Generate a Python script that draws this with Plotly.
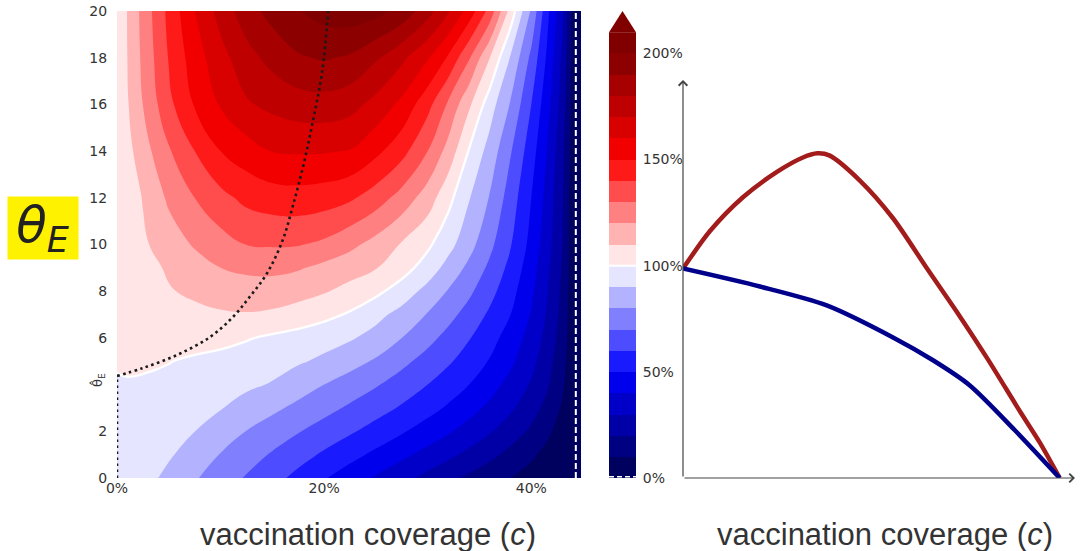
import plotly.graph_objects as go

W, H = 1080, 551

# ---------------- data ----------------
# contour grid: vaccination coverage c (columns) x theta_E (rows), relative value in %
c_cols = [0, .01, .025, .05, .075, .1, .125, .15, .175, .2, .225, .25, .275, .3,
          .32, .34, .36, .38, .4, .415, .43, .443, .448]
theta_rows = [0, 1, 2, 3, 4, 5, 6, 7, 8, 9, 10, 12, 14, 16, 18, 20]
rel_z = [
    [99.8, 97.5, 93.8, 87.4, 81.0, 75.0, 69.1, 63.3, 57.2, 50.8, 44.8, 38.8, 33.0, 27.1, 22.4, 18.0, 14.0, 10.0, 6.8, 4.4, 2.1, 0, -1],
    [99.8, 98.2, 95.6, 91.2, 85.6, 79.6, 74.3, 69.0, 63.8, 58.5, 53.2, 47.8, 42.2, 36.7, 32.2, 27.5, 22.5, 17.1, 11.4, 7.4, 3.4, 0, -1],
    [99.8, 98.7, 96.7, 93.4, 90.1, 85.0, 79.8, 75.2, 70.6, 65.9, 61.3, 56.3, 51.0, 45.6, 41.1, 36.1, 30.8, 24.8, 18.3, 12.1, 5.7, 0, -1],
    [99.8, 99.0, 97.6, 95.2, 92.9, 90.5, 86.5, 82.1, 77.6, 73.1, 68.5, 63.8, 58.9, 53.3, 48.7, 43.4, 37.8, 31.6, 24.0, 17.2, 8.7, 0, -1],
    [99.8, 99.6, 99.0, 97.8, 96.0, 93.8, 91.6, 89.4, 84.7, 80.0, 75.5, 70.9, 65.6, 60.0, 55.0, 50.0, 43.8, 36.9, 29.0, 21.5, 11.4, 0, -1],
    [100.2, 100.8, 101.2, 100.3, 98.5, 96.7, 94.8, 93.0, 91.1, 88.2, 83.6, 78.8, 72.5, 66.3, 61.3, 55.5, 49.3, 41.9, 32.9, 24.4, 13.3, 0, -1],
    [100.2, 101.2, 102.5, 103.7, 104.0, 103.2, 100.8, 98.3, 95.9, 93.5, 91.1, 86.4, 80.0, 72.9, 66.9, 60.6, 53.6, 45.7, 36.1, 27.1, 15.5, 0, -1],
    [100.2, 101.2, 102.8, 105.2, 107.3, 108.9, 109.4, 108.6, 106.5, 102.8, 98.8, 93.0, 86.6, 79.4, 73.1, 66.2, 58.3, 50.0, 39.3, 29.2, 17.0, 0, -1],
    [100.2, 102.2, 105.0, 109.2, 112.0, 114.0, 115.0, 114.6, 113.0, 110.8, 107.1, 102.3, 95.5, 86.7, 79.3, 71.9, 63.2, 53.5, 41.9, 30.8, 17.8, 0, -1],
    [100.2, 102.4, 106.0, 111.4, 115.7, 120.0, 122.2, 122.9, 121.0, 117.3, 113.8, 110.4, 104.1, 95.5, 86.5, 77.6, 67.9, 57.1, 44.3, 32.5, 18.9, 0, -1],
    [100.2, 103.5, 108.4, 115.0, 121.0, 126.0, 130.1, 130.9, 130.6, 127.9, 122.6, 116.3, 109.1, 101.8, 93.3, 83.5, 72.4, 60.6, 46.9, 34.5, 20.0, 0, -1],
    [100.2, 104.3, 110.5, 121.7, 130.0, 137.1, 142.6, 145.2, 146.0, 144.8, 141.6, 135.0, 126.0, 115.0, 102.9, 90.6, 79.3, 65.3, 50.0, 37.0, 21.1, 0, -1],
    [100.2, 106.7, 115.6, 128.9, 140.0, 150.0, 155.6, 160.3, 161.0, 160.8, 159.6, 152.5, 143.5, 130.0, 116.2, 99.3, 86.0, 70.8, 54.5, 40.0, 22.5, 0, -1],
    [100.2, 109.1, 120.0, 137.3, 150.8, 160.9, 168.8, 172.5, 175.3, 175.9, 173.5, 166.7, 157.5, 143.3, 128.3, 111.7, 94.6, 79.1, 60.0, 44.0, 25.7, 0, -1],
    [100.2, 110.0, 122.1, 140.6, 155.3, 166.5, 176.3, 183.3, 188.9, 191.0, 188.6, 181.4, 172.3, 161.0, 148.5, 131.0, 110.0, 89.1, 67.5, 48.8, 28.3, 0, -1],
    [100.2, 110.3, 123.1, 142.7, 160.0, 173.7, 185.7, 193.6, 199.5, 204.0, 205.8, 203.5, 196.8, 184.1, 171.3, 155.8, 136.3, 106.0, 78.6, 53.3, 31.7, 0, -1],
]
level_start, level_end, level_step = 0, 210, 10
cbar_extend_top = 220

# dotted curve (maximum over c for each theta_E)
c_argmax = [0, 0.025, 0.058, 0.090, 0.112, 0.128, 0.145, 0.160, 0.170, 0.180, 0.189, 0.198, 0.204]
theta_argmax = [4.37, 4.71, 5.27, 6.04, 6.90, 7.75, 8.78, 10.19, 11.69, 13.40, 15.25, 17.39, 20.0]
theta_hat = 4.37
c_star = 0.443

# right panel curves (%)
c_red = [0, 0.032, 0.0705, 0.110, 0.141, 0.158, 0.172, 0.208, 0.247, 0.287, 0.325, 0.358, 0.396, 0.4195, 0.443]
z_red = [100, 118, 134, 146, 153, 155, 154, 142, 124, 100, 77.5, 57, 32, 17, 0]
c_navy = [0, 0.0905, 0.169, 0.247, 0.294, 0.337, 0.390, 0.443]
z_navy = [100, 91.4, 82.4, 67.1, 56.2, 44.3, 22.9, 0]

x_tick_vals = [0, 0.2, 0.4]
x_tick_text = ["0%", "20%", "40%"]
y_tick_vals = [0, 2, 6, 8, 10, 12, 14, 16, 18, 20]
cbar_tick_vals = [0, 50, 100, 150, 200]
cbar_tick_text = ["0%", "50%", "100%", "150%", "200%"]

# ---------------- styling helpers ----------------
def seismic(x):
    pts = [(0.0, (0, 0, 0.3)), (0.25, (0, 0, 1)), (0.5, (1, 1, 1)),
           (0.75, (1, 0, 0)), (1.0, (0.5, 0, 0))]
    x = min(max(x, 0.0), 1.0)
    for (x0, c0), (x1, c1) in zip(pts[:-1], pts[1:]):
        if x <= x1:
            t = (x - x0) / (x1 - x0)
            return "rgb(%d,%d,%d)" % tuple(round(255 * (a + (b - a) * t)) for a, b in zip(c0, c1))
    return "rgb(128,0,0)"

vmin = level_start - level_step / 2
vmax = level_end + level_step / 2
stops = [level_start - level_step / 2 + i * level_step
         for i in range(int((level_end - level_start) / level_step) + 2)]
colorscale = [[(v - vmin) / (vmax - vmin), seismic(max(v, level_start + level_step / 2) / 200.0)]
              for v in stops]
band_mids = [level_start + level_step / 2 + i * level_step
             for i in range(int((level_end - level_start) / level_step))]

TICK_FONT = dict(family="DejaVu Sans", size=14, color="#333333")


def pxx(p):
    return p / W


def pyy(p):
    return 1 - p / H


fig = go.Figure()

# filled contour
fig.add_trace(go.Contour(
    x=c_cols, y=theta_rows, z=rel_z, autocontour=False,
    contours=dict(start=level_start, end=level_end, size=level_step,
                  coloring="fill", showlines=False),
    colorscale=colorscale, showscale=False, line=dict(width=0, smoothing=1.3),
    hoverinfo="skip", xaxis="x", yaxis="y"))
# 100 % contour line
fig.add_trace(go.Contour(
    x=c_cols, y=theta_rows, z=rel_z, autocontour=False,
    contours=dict(start=100, end=100, size=level_step, coloring="none"),
    line=dict(color="white", width=2.4, smoothing=1.3), showscale=False,
    hoverinfo="skip", xaxis="x", yaxis="y"))
# c* dashed line
fig.add_trace(go.Scatter(x=[c_star, c_star], y=[theta_rows[0], theta_rows[-1]], mode="lines",
                         line=dict(color="white", width=2, dash="6px,3px"),
                         hoverinfo="skip", showlegend=False, xaxis="x", yaxis="y"))
# dotted black lines
fig.add_trace(go.Scatter(x=c_argmax, y=theta_argmax, mode="lines",
                         line=dict(color="#1a1a1a", width=2.6, dash="2.6px,3.4px", shape="spline"),
                         hoverinfo="skip", showlegend=False, xaxis="x", yaxis="y"))
fig.add_trace(go.Scatter(x=[0, 0], y=[0, theta_hat], mode="lines",
                         line=dict(color="#1a1a1a", width=2.6, dash="2.6px,3.4px"),
                         cliponaxis=False, hoverinfo="skip", showlegend=False,
                         xaxis="x", yaxis="y"))

# colour bar (drawn as heatmap column)
fig.add_trace(go.Heatmap(x=[0, 1], y=band_mids, z=[[m, m] for m in band_mids],
                         colorscale=colorscale, zmin=vmin, zmax=vmax, showscale=False,
                         hoverinfo="skip", xaxis="x2", yaxis="y2"))
fig.add_trace(go.Scatter(x=[-0.5, 1.5, 0.5, -0.5],
                         y=[level_end, level_end, cbar_extend_top, level_end],
                         mode="lines", fill="toself", fillcolor=seismic(1.0),
                         line=dict(width=0, color=seismic(1.0)), hoverinfo="skip",
                         showlegend=False, xaxis="x2", yaxis="y2"))
fig.add_trace(go.Scatter(x=[-0.5, 1.5], y=[100, 100], mode="lines",
                         line=dict(color="white", width=2), hoverinfo="skip",
                         showlegend=False, xaxis="x2", yaxis="y2"))
fig.add_trace(go.Scatter(x=[-0.5, 1.5], y=[0.6, 0.6], mode="lines",
                         line=dict(color="white", width=1.5, dash="5px,3px"), hoverinfo="skip",
                         showlegend=False, xaxis="x2", yaxis="y2"))

# right panel lines
fig.add_trace(go.Scatter(x=c_red, y=z_red, mode="lines",
                         line=dict(color="#a31c1c", width=4.5, shape="spline", smoothing=0.8),
                         hoverinfo="skip", showlegend=False, xaxis="x3", yaxis="y3"))
fig.add_trace(go.Scatter(x=c_navy, y=z_navy, mode="lines",
                         line=dict(color="#00008b", width=4.5, shape="spline", smoothing=0.8),
                         hoverinfo="skip", showlegend=False, xaxis="x3", yaxis="y3"))

fig.update_layout(
    width=W, height=H, margin=dict(l=0, r=0, t=0, b=0, autoexpand=False),
    paper_bgcolor="white", plot_bgcolor="white", showlegend=False,
    xaxis=dict(domain=[pxx(117), pxx(581)], range=[0, 0.448], tickvals=x_tick_vals,
               ticktext=x_tick_text, ticks="", showgrid=False, zeroline=False,
               showline=False, tickfont=TICK_FONT, anchor="y", automargin=False,
               ticklabeloverflow="allow"),
    yaxis=dict(domain=[pyy(478), pyy(11)], range=[0, 20], tickvals=y_tick_vals,
               ticks="outside", ticklen=6, tickcolor="rgba(0,0,0,0)",
               showgrid=False, zeroline=False, showline=False, tickfont=TICK_FONT,
               anchor="x", automargin=False, ticklabeloverflow="allow"),
    xaxis2=dict(domain=[pxx(609), pxx(636)], range=[-0.5, 1.5], visible=False, anchor="y2",
                automargin=False),
    yaxis2=dict(domain=[pyy(478), pyy(11)], range=[0, cbar_extend_top], side="right",
                tickvals=cbar_tick_vals, ticktext=cbar_tick_text, ticks="outside",
                ticklen=3, tickcolor="rgba(0,0,0,0)", showgrid=False, zeroline=False,
                showline=False, tickfont=dict(family="DejaVu Sans", size=14, color="#333333"),
                anchor="x2", automargin=False, ticklabeloverflow="allow"),
    xaxis3=dict(domain=[pxx(683), pxx(1075)], range=[0, 0.461],
                visible=False, anchor="y3", automargin=False),
    yaxis3=dict(domain=[pyy(478), pyy(80)], range=[0, 190], visible=False, anchor="x3",
                automargin=False),
)

ann = []
# axis arrows of the right panel
ann.append(dict(x=0, y=190, xref="x3", yref="y3", ax=0, ay=0, axref="x3", ayref="y3",
                showarrow=True, arrowhead=4, arrowsize=1.4, arrowwidth=1.2,
                arrowcolor="#444444", text=""))
ann.append(dict(x=0.461, y=0, xref="x3", yref="y3", ax=0, ay=0, axref="x3", ayref="y3",
                showarrow=True, arrowhead=4, arrowsize=1.4, arrowwidth=1.2,
                arrowcolor="#444444", text=""))
# axis titles
for xc in (368, 885):
    ann.append(dict(x=pxx(xc), y=pyy(534), xref="paper", yref="paper", showarrow=False,
                    text="vaccination coverage (<i>c</i>)",
                    font=dict(family="Liberation Sans", size=31, color="#333333"),
                    xanchor="center", yanchor="middle"))
# theta hat tick label
ann.append(dict(x=pxx(98), y=pyy(380), xref="paper", yref="paper", showarrow=False,
                text="\u03b8\u0302<sub>E</sub>", textangle=-90,
                font=dict(family="DejaVu Sans", size=13, color="#333333"),
                xanchor="center", yanchor="middle"))
# yellow theta_E label
ann.append(dict(x=pxx(43), y=pyy(228), xref="paper", yref="paper", showarrow=False,
                text="<i>\u03b8<sub>E</sub></i>", bgcolor="#fff200", width=70, height=62,
                font=dict(family="DejaVu Sans", size=50, color="#222222"),
                xanchor="center", yanchor="middle", valign="middle", borderpad=0))
fig.update_layout(annotations=ann)

fig.write_html("out.html", config={"displayModeBar": False, "staticPlot": True},
               post_script="document.body.style.margin='0px';document.body.style.overflow='hidden';")
